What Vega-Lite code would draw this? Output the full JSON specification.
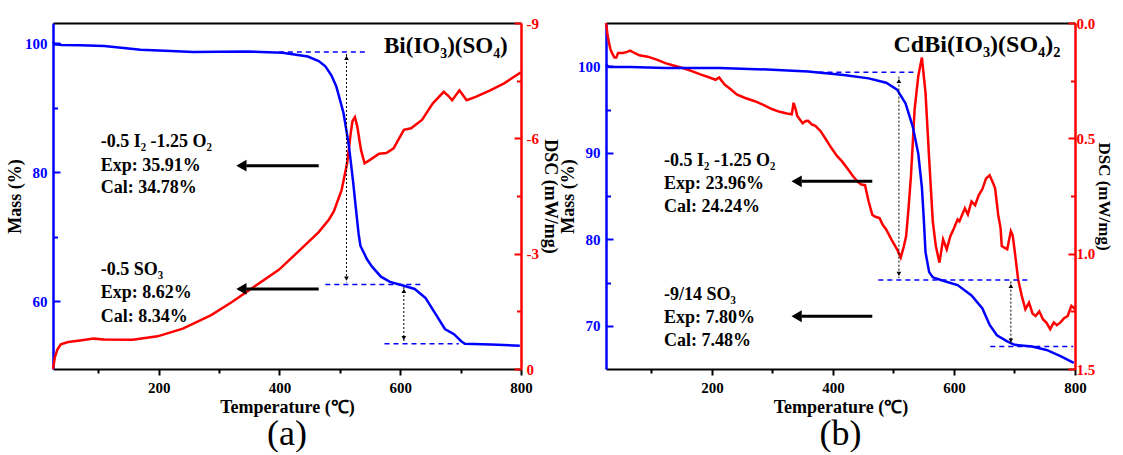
{
  "$schema": "https://vega.github.io/schema/vega-lite/v6.json",
  "background": "white",
  "padding": {"left": 6, "top": 16, "right": 0, "bottom": 0},
  "spacing": 0,
  "config": {
    "view": {"stroke": null},
    "axis": {
      "labelFont": "Liberation Serif", "labelFontWeight": "bold", "labelFontSize": 15,
      "titleFont": "Liberation Serif", "titleFontWeight": "bold", "titleFontSize": 18, "titleColor": "black",
      "grid": false, "labelFlush": false, "labelOverlap": false
    }
  },
  "datasets": {
    "tgA": [
      {"T": 25, "m": 100.2}, {"T": 28, "m": 99.8}, {"T": 40, "m": 99.7}, {"T": 70, "m": 99.65}, {"T": 110, "m": 99.55},
      {"T": 170, "m": 98.95}, {"T": 220, "m": 98.75}, {"T": 257, "m": 98.6}, {"T": 300, "m": 98.65}, {"T": 346, "m": 98.7},
      {"T": 405, "m": 98.5}, {"T": 447, "m": 97.9}, {"T": 465, "m": 97.2}, {"T": 476, "m": 96.4}, {"T": 486, "m": 95.0},
      {"T": 494, "m": 93.3}, {"T": 506, "m": 89.2}, {"T": 515, "m": 84.1}, {"T": 522, "m": 78.5}, {"T": 527, "m": 74.0},
      {"T": 531, "m": 70.5}, {"T": 534, "m": 68.6}, {"T": 545, "m": 66.5}, {"T": 553, "m": 65.4}, {"T": 568, "m": 63.8},
      {"T": 583, "m": 63.0}, {"T": 606, "m": 62.4}, {"T": 624, "m": 61.9}, {"T": 642, "m": 60.5}, {"T": 660, "m": 57.8},
      {"T": 674, "m": 55.7}, {"T": 689, "m": 54.9}, {"T": 701, "m": 53.8}, {"T": 707, "m": 53.4}, {"T": 750, "m": 53.3},
      {"T": 798, "m": 53.1}
    ],
    "dscA": [
      {"T": 25, "d": 0}, {"T": 28, "d": -0.3}, {"T": 32, "d": -0.5}, {"T": 38, "d": -0.64}, {"T": 50, "d": -0.7},
      {"T": 70, "d": -0.74}, {"T": 92, "d": -0.79}, {"T": 110, "d": -0.77}, {"T": 157, "d": -0.76}, {"T": 198, "d": -0.85},
      {"T": 240, "d": -1.05}, {"T": 287, "d": -1.4}, {"T": 322, "d": -1.75}, {"T": 358, "d": -2.14}, {"T": 399, "d": -2.58},
      {"T": 435, "d": -3.11}, {"T": 465, "d": -3.56}, {"T": 482, "d": -3.89}, {"T": 490, "d": -4.1}, {"T": 503, "d": -4.66},
      {"T": 512, "d": -5.35}, {"T": 518, "d": -6.13}, {"T": 521, "d": -6.45}, {"T": 525, "d": -6.55}, {"T": 529, "d": -6.3},
      {"T": 535, "d": -5.7}, {"T": 541, "d": -5.35}, {"T": 550, "d": -5.44}, {"T": 565, "d": -5.6}, {"T": 577, "d": -5.62},
      {"T": 589, "d": -5.74}, {"T": 606, "d": -6.22}, {"T": 618, "d": -6.26}, {"T": 636, "d": -6.48}, {"T": 654, "d": -6.91},
      {"T": 672, "d": -7.21}, {"T": 680, "d": -7.1}, {"T": 686, "d": -6.99}, {"T": 698, "d": -7.25}, {"T": 710, "d": -6.99},
      {"T": 725, "d": -7.08}, {"T": 749, "d": -7.25}, {"T": 772, "d": -7.43}, {"T": 800, "d": -7.72}
    ],
    "hA": [{"T": 399, "T2": 546, "m": 98.6}, {"T": 476, "T2": 639, "m": 62.6}, {"T": 574, "T2": 697, "m": 53.4}],
    "vA": [{"T": 511, "m": 98.3, "m2": 62.9}, {"T": 606, "m": 62.2, "m2": 53.7}],
    "aA": [{"T": 345, "T2": 465, "m": 81.0}, {"T": 345, "T2": 465, "m": 61.9}],
    "headA": [
      {"T": 511, "m": 97.7, "s": "triangle-up"}, {"T": 511, "m": 63.5, "s": "triangle-down"},
      {"T": 606, "m": 61.6, "s": "triangle-up"}, {"T": 606, "m": 54.3, "s": "triangle-down"}
    ],
    "bigHeadA": [{"T": 337, "m": 81.0}, {"T": 337, "m": 61.9}],
    "txtA": [
      {"T": 104, "m": 84.6, "label": "-0.5 I₂ -1.25 O₂"}, {"T": 104, "m": 81.0, "label": "Exp: 35.91%"},
      {"T": 104, "m": 77.5, "label": "Cal: 34.78%"}, {"T": 104, "m": 64.8, "label": "-0.5 SO₃"},
      {"T": 104, "m": 61.2, "label": "Exp: 8.62%"}, {"T": 104, "m": 57.6, "label": "Cal: 8.34%"}
    ],
    "ttlA": [{"T": 778, "m": 99.6, "label": "Bi(IO₃)(SO₄)"}],
    "tgB": [
      {"T": 25, "m": 100.2}, {"T": 30, "m": 99.9}, {"T": 65, "m": 99.9}, {"T": 123, "m": 99.8}, {"T": 212, "m": 99.8},
      {"T": 300, "m": 99.6}, {"T": 359, "m": 99.4}, {"T": 418, "m": 99.0}, {"T": 459, "m": 98.6}, {"T": 488, "m": 98.1},
      {"T": 506, "m": 97.3}, {"T": 520, "m": 95.7}, {"T": 532, "m": 93.0}, {"T": 541, "m": 89.9}, {"T": 547, "m": 86.0},
      {"T": 550, "m": 82.5}, {"T": 553, "m": 78.5}, {"T": 559, "m": 76.2}, {"T": 565, "m": 75.6}, {"T": 582, "m": 75.2},
      {"T": 606, "m": 74.7}, {"T": 629, "m": 73.5}, {"T": 647, "m": 72.0}, {"T": 659, "m": 70.1}, {"T": 671, "m": 68.9},
      {"T": 688, "m": 68.2}, {"T": 700, "m": 67.8}, {"T": 729, "m": 67.6}, {"T": 753, "m": 67.2}, {"T": 776, "m": 66.5},
      {"T": 798, "m": 65.7}
    ],
    "dscB": [
      {"T": 25, "d": 0.0}, {"T": 27, "d": 0.04}, {"T": 29, "d": 0.074}, {"T": 32, "d": 0.11}, {"T": 35, "d": 0.131},
      {"T": 39, "d": 0.15}, {"T": 42, "d": 0.15}, {"T": 45, "d": 0.13}, {"T": 53, "d": 0.13}, {"T": 60, "d": 0.125},
      {"T": 65, "d": 0.12}, {"T": 72, "d": 0.13}, {"T": 80, "d": 0.14}, {"T": 94, "d": 0.146}, {"T": 110, "d": 0.16},
      {"T": 123, "d": 0.174}, {"T": 138, "d": 0.185}, {"T": 153, "d": 0.196}, {"T": 168, "d": 0.21}, {"T": 182, "d": 0.224},
      {"T": 195, "d": 0.235}, {"T": 206, "d": 0.246}, {"T": 212, "d": 0.236}, {"T": 216, "d": 0.25}, {"T": 221, "d": 0.267},
      {"T": 230, "d": 0.285}, {"T": 241, "d": 0.31}, {"T": 255, "d": 0.325}, {"T": 271, "d": 0.339}, {"T": 285, "d": 0.355},
      {"T": 300, "d": 0.374}, {"T": 312, "d": 0.385}, {"T": 324, "d": 0.392}, {"T": 332, "d": 0.396}, {"T": 335, "d": 0.346},
      {"T": 338, "d": 0.37}, {"T": 341, "d": 0.403}, {"T": 350, "d": 0.435}, {"T": 355, "d": 0.425}, {"T": 359, "d": 0.424},
      {"T": 365, "d": 0.44}, {"T": 371, "d": 0.446}, {"T": 380, "d": 0.47}, {"T": 388, "d": 0.503}, {"T": 397, "d": 0.54},
      {"T": 406, "d": 0.574}, {"T": 415, "d": 0.6}, {"T": 424, "d": 0.631}, {"T": 432, "d": 0.66}, {"T": 441, "d": 0.689},
      {"T": 447, "d": 0.7}, {"T": 453, "d": 0.703}, {"T": 459, "d": 0.774}, {"T": 465, "d": 0.831}, {"T": 470, "d": 0.84},
      {"T": 477, "d": 0.846}, {"T": 482, "d": 0.874}, {"T": 488, "d": 0.895}, {"T": 497, "d": 0.94}, {"T": 506, "d": 0.981},
      {"T": 512, "d": 1.017}, {"T": 517, "d": 0.97}, {"T": 521, "d": 0.924}, {"T": 525, "d": 0.8}, {"T": 529, "d": 0.66},
      {"T": 535, "d": 0.374}, {"T": 541, "d": 0.231}, {"T": 547, "d": 0.15}, {"T": 553, "d": 0.303}, {"T": 559, "d": 0.589},
      {"T": 565, "d": 0.86}, {"T": 570, "d": 0.967}, {"T": 576, "d": 1.039}, {"T": 582, "d": 0.938}, {"T": 588, "d": 0.981},
      {"T": 594, "d": 0.924}, {"T": 600, "d": 0.89}, {"T": 606, "d": 0.852}, {"T": 609, "d": 0.86}, {"T": 618, "d": 0.803},
      {"T": 623, "d": 0.83}, {"T": 629, "d": 0.774}, {"T": 635, "d": 0.79}, {"T": 641, "d": 0.746}, {"T": 647, "d": 0.72},
      {"T": 653, "d": 0.674}, {"T": 659, "d": 0.66}, {"T": 664, "d": 0.69}, {"T": 668, "d": 0.717}, {"T": 673, "d": 0.831},
      {"T": 677, "d": 0.889}, {"T": 679, "d": 0.967}, {"T": 684, "d": 0.975}, {"T": 688, "d": 0.981}, {"T": 694, "d": 0.902},
      {"T": 697, "d": 0.92}, {"T": 700, "d": 0.981}, {"T": 706, "d": 1.111}, {"T": 712, "d": 1.183}, {"T": 718, "d": 1.241},
      {"T": 724, "d": 1.212}, {"T": 730, "d": 1.26}, {"T": 735, "d": 1.27}, {"T": 741, "d": 1.25}, {"T": 747, "d": 1.284},
      {"T": 753, "d": 1.3}, {"T": 759, "d": 1.327}, {"T": 765, "d": 1.298}, {"T": 770, "d": 1.31}, {"T": 776, "d": 1.298},
      {"T": 782, "d": 1.28}, {"T": 788, "d": 1.27}, {"T": 794, "d": 1.226}, {"T": 800, "d": 1.24}
    ],
    "hB": [{"T": 376, "T2": 538, "m": 99.3}, {"T": 475, "T2": 726, "m": 75.3}, {"T": 660, "T2": 797, "m": 67.6}],
    "vB": [{"T": 509, "m": 98.8, "m2": 75.5}, {"T": 694, "m": 75.1, "m2": 67.8}],
    "aB": [{"T": 348, "T2": 465, "m": 86.7}, {"T": 348, "T2": 465, "m": 71.1}],
    "headB": [
      {"T": 509, "m": 98.3, "s": "triangle-up"}, {"T": 509, "m": 76.0, "s": "triangle-down"},
      {"T": 694, "m": 74.6, "s": "triangle-up"}, {"T": 694, "m": 68.3, "s": "triangle-down"}
    ],
    "bigHeadB": [{"T": 340, "m": 86.7}, {"T": 340, "m": 71.1}],
    "txtB": [
      {"T": 121, "m": 89.1, "label": "-0.5 I₂ -1.25 O₂"}, {"T": 121, "m": 86.4, "label": "Exp: 23.96%"},
      {"T": 121, "m": 83.7, "label": "Cal: 24.24%"}, {"T": 121, "m": 73.6, "label": "-9/14 SO₃"},
      {"T": 121, "m": 70.9, "label": "Exp: 7.80%"}, {"T": 121, "m": 68.2, "label": "Cal: 7.48%"}
    ],
    "ttlB": [{"T": 776, "m": 102.5, "label": "CdBi(IO₃)(SO₄)₂"}]
  },
  "hconcat": [
    {
      "width": 468, "height": 346,
      "title": {"text": "(a)", "orient": "bottom", "font": "Liberation Serif", "fontSize": 36, "fontWeight": "normal", "color": "black", "offset": 1},
      "resolve": {"scale": {"y": "independent"}, "axis": {"x": "independent"}},
      "layer": [
        {
          "data": {"name": "dscA"},
          "mark": {"type": "line", "color": "#ff0000", "strokeWidth": 2.5},
          "encoding": {
            "x": {"field": "T", "type": "quantitative", "scale": {"domain": [25, 800], "nice": false, "zero": false},
                  "axis": {"orient": "top", "labels": false, "ticks": false, "title": null, "domainColor": "black", "domainWidth": 2}},
            "y": {"field": "d", "type": "quantitative", "scale": {"domain": [-9, 0], "reverse": true, "nice": false, "zero": false},
                  "axis": {"orient": "right", "values": [0, -1.5, -3, -4.5, -6, -7.5, -9],
                           "labelExpr": "datum.value % 3 === 0 ? '' + datum.value : ''",
                           "tickSize": {"condition": {"test": "datum.value % 3 === 0", "value": -7}, "value": -4.5},
                           "tickColor": "#ff0000", "tickWidth": 2, "domainColor": "#ff0000", "domainWidth": 2.5,
                           "labelColor": "#ff0000", "labelPadding": 12, "title": "DSC (mW/mg)", "titlePadding": 2}}
          }
        },
        {
          "encoding": {
            "x": {"field": "T", "type": "quantitative", "scale": {"domain": [25, 800], "nice": false, "zero": false},
                  "axis": {"orient": "bottom", "values": [100, 200, 300, 400, 500, 600, 700, 800],
                           "labelExpr": "datum.value % 200 === 0 ? '' + datum.value : ''",
                           "tickSize": {"condition": {"test": "datum.value % 200 === 0", "value": 6}, "value": 4},
                           "tickColor": "black", "tickWidth": 2, "domainColor": "black", "domainWidth": 2,
                           "labelColor": "black", "labelPadding": 5, "title": "Temperature (℃)", "titlePadding": 3}},
            "y": {"field": "m", "type": "quantitative", "scale": {"domain": [49.5, 103.1], "nice": false, "zero": false},
                  "axis": {"orient": "left", "values": [60, 70, 80, 90, 100],
                           "labelExpr": "datum.value % 20 === 0 ? '' + datum.value : ''",
                           "tickSize": {"condition": {"test": "datum.value % 20 === 0", "value": -7}, "value": -4.5},
                           "tickColor": "#0000ff", "tickWidth": 2, "domainColor": "#0000ff", "domainWidth": 2.5,
                           "labelColor": "#0000ff", "labelPadding": 13, "title": "Mass (%)", "titlePadding": 0}}
          },
          "layer": [
            {"data": {"name": "tgA"}, "mark": {"type": "line", "color": "#0000ff", "strokeWidth": 2.5}},
            {"data": {"name": "hA"}, "mark": {"type": "rule", "color": "#0000ff", "strokeWidth": 1.5, "strokeDash": [5, 4]},
             "encoding": {"x2": {"field": "T2"}}},
            {"data": {"name": "vA"}, "mark": {"type": "rule", "color": "black", "strokeWidth": 1, "strokeDash": [2, 2]},
             "encoding": {"y2": {"field": "m2"}}},
            {"data": {"name": "headA"}, "mark": {"type": "point", "filled": true, "color": "black", "size": 22, "opacity": 1},
             "encoding": {"shape": {"field": "s", "type": "nominal", "scale": null}}},
            {"data": {"name": "aA"}, "mark": {"type": "rule", "color": "black", "strokeWidth": 3},
             "encoding": {"x2": {"field": "T2"}}},
            {"data": {"name": "bigHeadA"}, "mark": {"type": "point", "shape": "triangle-left", "filled": true, "color": "black", "size": 140, "opacity": 1}},
            {"data": {"name": "txtA"}, "mark": {"type": "text", "align": "left", "baseline": "middle", "font": "Liberation Serif", "fontWeight": "bold", "fontSize": 18, "color": "black"},
             "encoding": {"text": {"field": "label"}}},
            {"data": {"name": "ttlA"}, "mark": {"type": "text", "align": "right", "baseline": "middle", "font": "Liberation Serif", "fontWeight": "bold", "fontSize": 23, "color": "black"},
             "encoding": {"text": {"field": "label"}}}
          ]
        }
      ]
    },
    {
      "width": 469, "height": 346,
      "title": {"text": "(b)", "orient": "bottom", "font": "Liberation Serif", "fontSize": 36, "fontWeight": "normal", "color": "black", "offset": 1},
      "resolve": {"scale": {"y": "independent"}, "axis": {"x": "independent"}},
      "layer": [
        {
          "data": {"name": "dscB"},
          "mark": {"type": "line", "color": "#ff0000", "strokeWidth": 2.5},
          "encoding": {
            "x": {"field": "T", "type": "quantitative", "scale": {"domain": [25, 800], "nice": false, "zero": false},
                  "axis": {"orient": "top", "labels": false, "ticks": false, "title": null, "domainColor": "black", "domainWidth": 2}},
            "y": {"field": "d", "type": "quantitative", "scale": {"domain": [0, 1.5], "reverse": true, "nice": false, "zero": false},
                  "axis": {"orient": "right", "values": [0, 0.25, 0.5, 0.75, 1, 1.25, 1.5],
                           "labelExpr": "(datum.value * 2) % 1 === 0 ? format(datum.value, '.1f') : ''",
                           "tickSize": {"condition": {"test": "(datum.value * 2) % 1 === 0", "value": -7}, "value": -4.5},
                           "tickColor": "#ff0000", "tickWidth": 2, "domainColor": "#ff0000", "domainWidth": 2.5,
                           "labelColor": "#ff0000", "labelPadding": 8, "title": "DSC (mW/mg)", "titleFontSize": 17, "titlePadding": 0}}
          }
        },
        {
          "encoding": {
            "x": {"field": "T", "type": "quantitative", "scale": {"domain": [25, 800], "nice": false, "zero": false},
                  "axis": {"orient": "bottom", "values": [100, 200, 300, 400, 500, 600, 700, 800],
                           "labelExpr": "datum.value % 200 === 0 ? '' + datum.value : ''",
                           "tickSize": {"condition": {"test": "datum.value % 200 === 0", "value": 6}, "value": 4},
                           "tickColor": "black", "tickWidth": 2, "domainColor": "black", "domainWidth": 2,
                           "labelColor": "black", "labelPadding": 5, "title": "Temperature (℃)", "titlePadding": 3}},
            "y": {"field": "m", "type": "quantitative", "scale": {"domain": [65, 105], "nice": false, "zero": false},
                  "axis": {"orient": "left", "values": [70, 75, 80, 85, 90, 95, 100],
                           "labelExpr": "datum.value % 10 === 0 ? '' + datum.value : ''",
                           "tickSize": {"condition": {"test": "datum.value % 10 === 0", "value": -7}, "value": -4.5},
                           "tickColor": "#0000ff", "tickWidth": 2, "domainColor": "#0000ff", "domainWidth": 2.5,
                           "labelColor": "#0000ff", "labelPadding": 13, "title": "Mass (%)", "titlePadding": 0}}
          },
          "layer": [
            {"data": {"name": "tgB"}, "mark": {"type": "line", "color": "#0000ff", "strokeWidth": 2.5}},
            {"data": {"name": "hB"}, "mark": {"type": "rule", "color": "#0000ff", "strokeWidth": 1.5, "strokeDash": [5, 4]},
             "encoding": {"x2": {"field": "T2"}}},
            {"data": {"name": "vB"}, "mark": {"type": "rule", "color": "black", "strokeWidth": 1, "strokeDash": [2, 2]},
             "encoding": {"y2": {"field": "m2"}}},
            {"data": {"name": "headB"}, "mark": {"type": "point", "filled": true, "color": "black", "size": 22, "opacity": 1},
             "encoding": {"shape": {"field": "s", "type": "nominal", "scale": null}}},
            {"data": {"name": "aB"}, "mark": {"type": "rule", "color": "black", "strokeWidth": 3},
             "encoding": {"x2": {"field": "T2"}}},
            {"data": {"name": "bigHeadB"}, "mark": {"type": "point", "shape": "triangle-left", "filled": true, "color": "black", "size": 140, "opacity": 1}},
            {"data": {"name": "txtB"}, "mark": {"type": "text", "align": "left", "baseline": "middle", "font": "Liberation Serif", "fontWeight": "bold", "fontSize": 18, "color": "black"},
             "encoding": {"text": {"field": "label"}}},
            {"data": {"name": "ttlB"}, "mark": {"type": "text", "align": "right", "baseline": "middle", "font": "Liberation Serif", "fontWeight": "bold", "fontSize": 24, "color": "black"},
             "encoding": {"text": {"field": "label"}}}
          ]
        }
      ]
    }
  ]
}
